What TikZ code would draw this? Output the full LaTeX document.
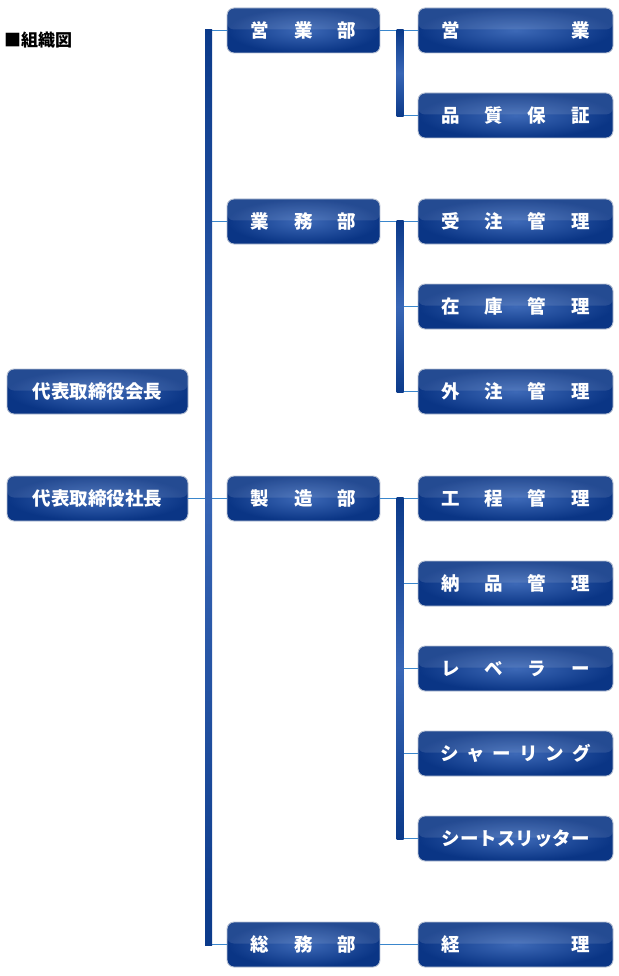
\documentclass[tikz,border=0pt]{standalone}
\usepackage{fontspec}
\newfontfamily\jp{Noto Sans CJK JP}
\usetikzlibrary{calc}
\definecolor{navy}{HTML}{0A3585}
\definecolor{navylight}{HTML}{3D69B7}
\definecolor{boxborder}{HTML}{B8C2D4}
\definecolor{linkblue}{HTML}{3A86CC}
\definecolor{bardark}{HTML}{0B3A8A}
\definecolor{barlight}{HTML}{3866B6}
\newcommand\gapM{\hspace{25pt}}
\newcommand\gapW{\hspace{111pt}}
\newcommand\gapK{\hspace{8pt}}
\tikzset{
  orgbox/.style={rounded corners=7pt, draw=boxborder, line width=0.9pt,
    minimum height=45pt, inner sep=0pt, inner color=navylight, outer color=navy,
    text=white, font=\jp\bfseries\fontsize{18.5}{18.5}\selectfont,
    path picture={\fill[white,opacity=0.11] (path picture bounding box.north west) rectangle ([yshift=1pt]path picture bounding box.east);}},
  leftbox/.style={orgbox, minimum width=181pt},
  midbox/.style={orgbox, minimum width=153pt},
  rightbox/.style={orgbox, minimum width=195pt},
  link/.style={draw=linkblue, line width=1.4pt},
}
\begin{document}
\begin{tikzpicture}[x=1pt,y=-1pt]
\useasboundingbox (0,0) rectangle (618,976);
\node[anchor=west, inner sep=0pt, font=\jp\bfseries\fontsize{17}{17}\selectfont] (title) at (4,40.5) {■組織図};

% left boxes
\node[leftbox] (kaicho) at (97.5,391.5) {代表取締役会長};
\node[leftbox] (shacho) at (97.5,498.5) {代表取締役社長};

% middle boxes
\node[midbox] (eigyobu) at (303.5,30.5) {営\gapM 業\gapM 部};
\node[midbox] (gyomubu) at (303.5,221.5) {業\gapM 務\gapM 部};
\node[midbox] (seizobu) at (303.5,498.5) {製\gapM 造\gapM 部};
\node[midbox] (somubu) at (303.5,944.5) {総\gapM 務\gapM 部};

% right boxes
\node[rightbox] (eigyo) at (515.5,30.5) {営\gapW 業};
\node[rightbox] (hinshitsu) at (515.5,115.5) {品\gapM 質\gapM 保\gapM 証};
\node[rightbox] (juchu) at (515.5,221.5) {受\gapM 注\gapM 管\gapM 理};
\node[rightbox] (zaiko) at (515.5,306.5) {在\gapM 庫\gapM 管\gapM 理};
\node[rightbox] (gaichu) at (515.5,391.5) {外\gapM 注\gapM 管\gapM 理};
\node[rightbox] (kotei) at (515.5,498.5) {工\gapM 程\gapM 管\gapM 理};
\node[rightbox] (nohin) at (515.5,583.5) {納\gapM 品\gapM 管\gapM 理};
\node[rightbox] (leveler) at (515.5,668.5) {レ\gapM ベ\gapM ラ\gapM ー};
\node[rightbox] (shearing) at (515.5,753.5) {シ\gapK ャ\gapK ー\gapK リ\gapK ン\gapK グ};
\node[rightbox] (slitter) at (515.5,838.5) {シートスリッター};
\node[rightbox] (keiri) at (515.5,944.5) {経\gapW 理};

% bar coordinates
\coordinate (mtop) at (208.5,30.5);
\coordinate (mbot) at (208.5,944.5);
\coordinate (s1top) at (400,30.5);
\coordinate (s1bot) at (400,115.5);
\coordinate (s2top) at (400,221.5);
\coordinate (s2bot) at (400,391.5);
\coordinate (s3top) at (400,498.5);
\coordinate (s3bot) at (400,838.5);

% thin connectors
\draw[link] (mtop) -- (eigyobu.west);
\draw[link] (gyomubu.west -| mtop) -- (gyomubu.west);
\draw[link] (shacho.east) -- (seizobu.west);
\draw[link] (mbot) -- (somubu.west);

\draw[link] (eigyobu.east) -- (eigyo.west);
\draw[link] (s1bot) -- (hinshitsu.west);
\draw[link] (gyomubu.east) -- (juchu.west);
\draw[link] (zaiko.west -| s2top) -- (zaiko.west);
\draw[link] (s2bot) -- (gaichu.west);
\draw[link] (seizobu.east) -- (kotei.west);
\draw[link] (nohin.west -| s3top) -- (nohin.west);
\draw[link] (leveler.west -| s3top) -- (leveler.west);
\draw[link] (shearing.west -| s3top) -- (shearing.west);
\draw[link] (s3bot) -- (slitter.west);
\draw[link] (somubu.east) -- (keiri.west);

% thick bars
\shade[top color=bardark, bottom color=bardark, middle color=barlight]
  ($(mtop)+(-3.5,-0.7)$) rectangle ($(mbot)+(3.5,0.7)$);
\shade[top color=bardark, bottom color=bardark, middle color=barlight]
  ($(s1top)+(-3.5,-0.7)$) rectangle ($(s1bot)+(3.5,0.7)$);
\shade[top color=bardark, bottom color=bardark, middle color=barlight]
  ($(s2top)+(-3.5,-0.7)$) rectangle ($(s2bot)+(3.5,0.7)$);
\shade[top color=bardark, bottom color=bardark, middle color=barlight]
  ($(s3top)+(-3.5,-0.7)$) rectangle ($(s3bot)+(3.5,0.7)$);
\end{tikzpicture}
\end{document}
